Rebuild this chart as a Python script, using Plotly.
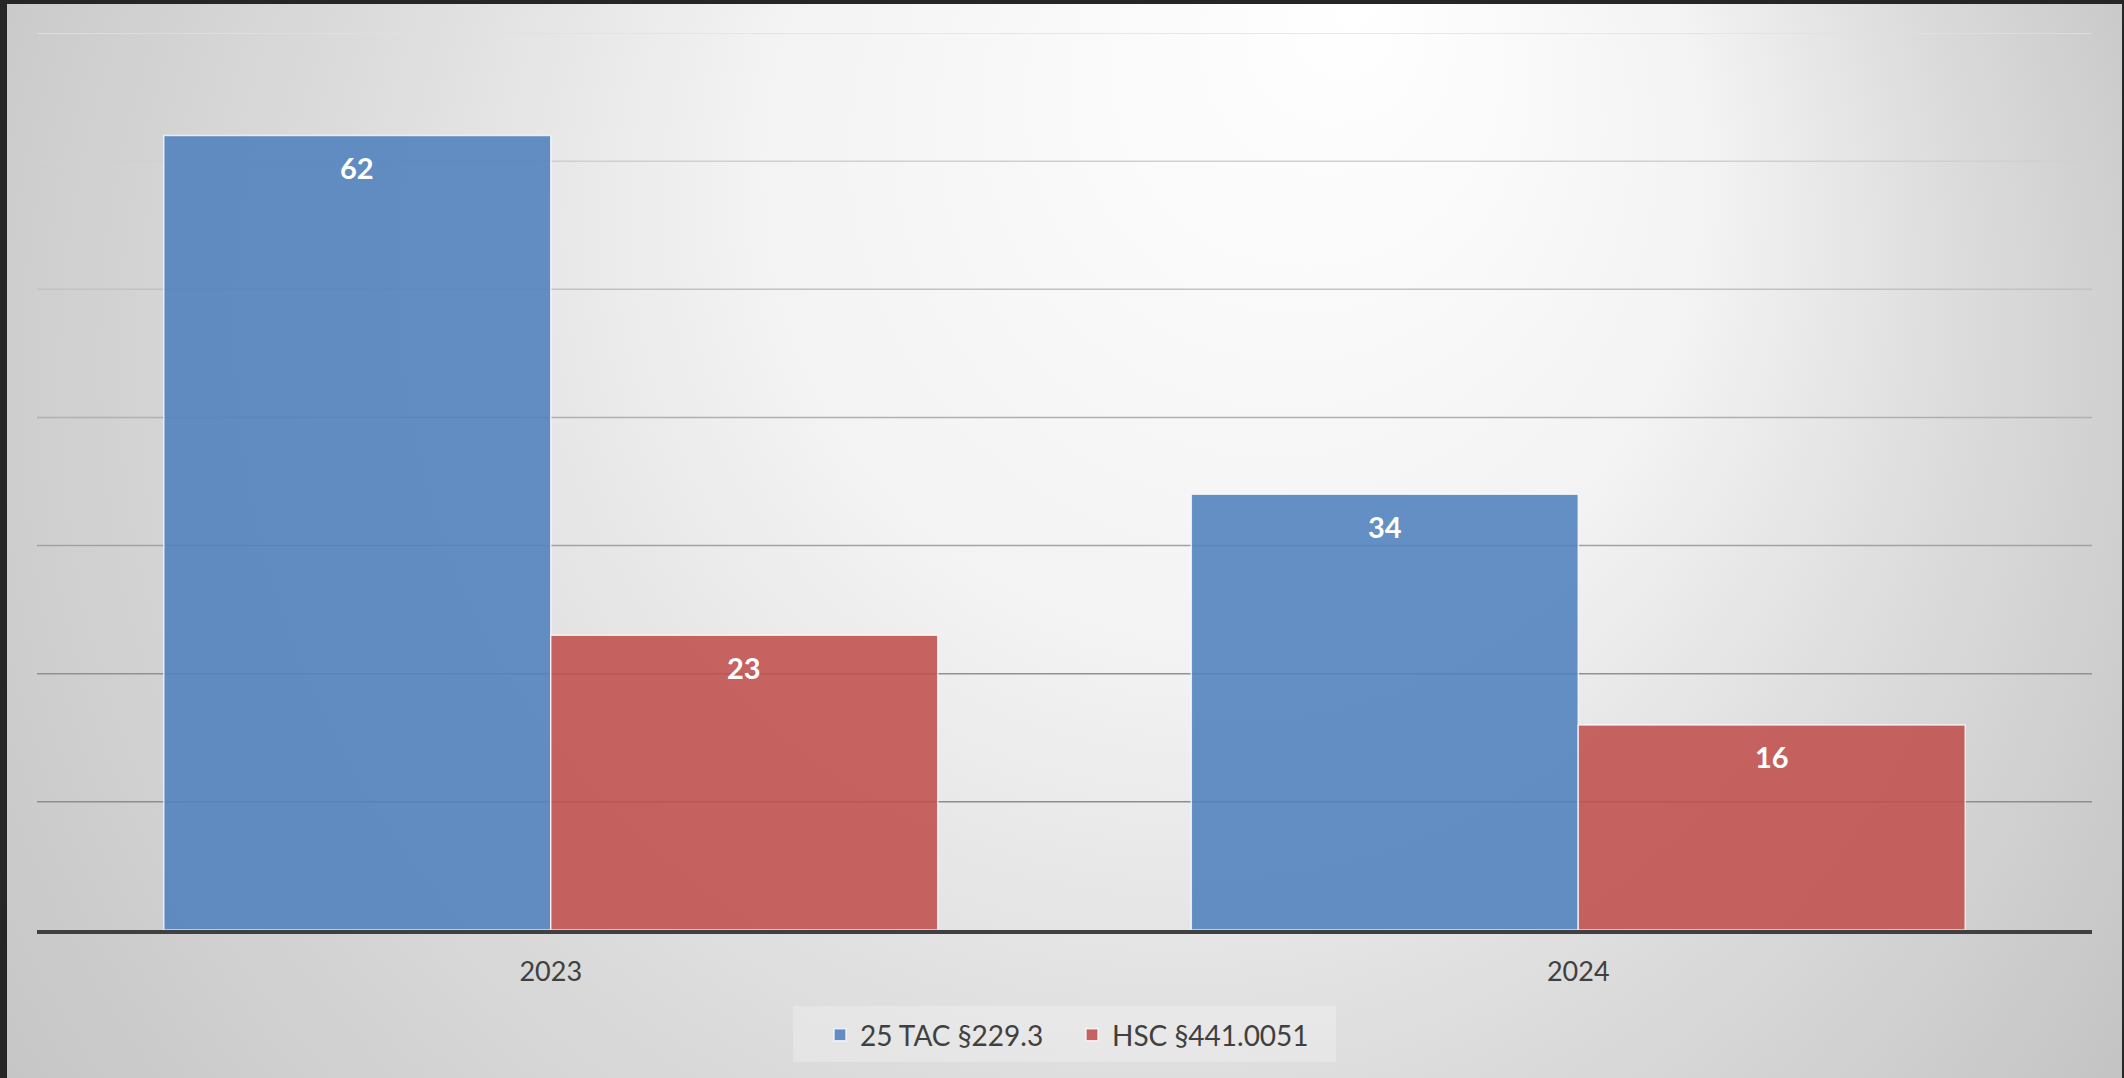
import base64
import plotly.graph_objects as go

# ---------------- data ----------------
categories = ["2023", "2024"]
series_names = ["25 TAC §229.3", "HSC §441.0051"]
tac_values = [62, 34]
hsc_values = [23, 16]
grid_values = [10, 20, 30, 40, 50, 60, 70]

# ---------------- styles ----------------
W, H = 2124, 1078
FONT = "Lato"
TEXT_COLOR = "#404040"
bar_colors = ["rgba(79,129,189,0.88)", "rgba(192,80,77,0.88)"]
grid_colors = ["#8e8e8e", "#929292", "#a2a2a2", "#b0b0b0", "#c2c2c2", "#d0d0d0", "#e0e0e0"]
bar_width = 0.3766

# plot-area geometry (pixels)
px_left, px_right = 37, 2092
px_top, px_bottom = 33, 930
xdom = [px_left / W, px_right / W]
ydom = [(H - px_bottom) / H, (H - px_top) / H]

# background radial gradient as an SVG image
svg = f'''<svg xmlns="http://www.w3.org/2000/svg" width="{W}" height="{H}" viewBox="0 0 {W} {H}" preserveAspectRatio="none">
<defs><radialGradient id="g" gradientUnits="userSpaceOnUse" cx="1000" cy="500" r="1358" fx="1360" fy="0">
<stop offset="0" stop-color="#ffffff"/>
<stop offset="0.35" stop-color="#f3f3f3"/>
<stop offset="0.6" stop-color="#dcdcdc"/>
<stop offset="0.85" stop-color="#c9c9c9"/>
<stop offset="1" stop-color="#bebebe"/>
</radialGradient></defs>
<rect x="0" y="0" width="{W}" height="{H}" fill="url(#g)"/></svg>'''
svg_uri = "data:image/svg+xml;base64," + base64.b64encode(svg.encode("utf-8")).decode("ascii")

fig = go.Figure()
all_values = [tac_values, hsc_values]
offsets = [-bar_width, 0.0]
for name, vals, color, off in zip(series_names, all_values, bar_colors, offsets):
    fig.add_trace(go.Bar(
        x=categories, y=vals, name=name,
        width=bar_width, offset=off,
        marker=dict(color=color, line=dict(color="rgba(255,255,255,0.75)", width=1.5)),
        hoverinfo="x+y+name",
    ))

annotations = []
for vals, off in zip(all_values, offsets):
    for i, v in enumerate(vals):
        annotations.append(dict(
            x=i + off + bar_width / 2, y=v, xref="x", yref="y",
            text=f"<b>{v}</b>", showarrow=False, yshift=-32,
            xanchor="center", yanchor="middle",
            font=dict(family=FONT, size=29, color="white"),
        ))

shapes = []
for gv, gc in zip(grid_values, grid_colors):
    shapes.append(dict(type="line", xref="paper", yref="y", x0=xdom[0], x1=xdom[1],
                       y0=gv, y1=gv, line=dict(color=gc, width=1.5), layer="below"))
# legend background box
shapes.append(dict(type="rect", xref="paper", yref="paper",
                   x0=793 / W, x1=1336 / W, y0=1 - 1062 / H, y1=1 - 1006 / H,
                   fillcolor="rgba(255,255,255,0.25)", line=dict(width=0), layer="below"))
# dark outer frame
frame = "#262626"
shapes.append(dict(type="rect", xref="paper", yref="paper", x0=0, x1=7 / W, y0=0, y1=1,
                   fillcolor=frame, line=dict(width=0), layer="above"))
shapes.append(dict(type="rect", xref="paper", yref="paper", x0=0, x1=1, y0=1 - 4 / H, y1=1,
                   fillcolor=frame, line=dict(width=0), layer="above"))
shapes.append(dict(type="rect", xref="paper", yref="paper", x0=1 - 2 / W, x1=1, y0=0, y1=1,
                   fillcolor=frame, line=dict(width=0), layer="above"))

fig.update_layout(
    width=W, height=H,
    margin=dict(l=0, r=0, t=0, b=0, pad=0),
    paper_bgcolor="#d4d4d4",
    plot_bgcolor="rgba(0,0,0,0)",
    images=[dict(source=svg_uri, xref="paper", yref="paper", x=0, y=1, sizex=1, sizey=1,
                 sizing="stretch", xanchor="left", yanchor="top", layer="below")],
    barmode="group",
    showlegend=True,
    legend=dict(orientation="h", x=820 / W, xanchor="left", y=1 - 1035 / H, yanchor="middle",
                bgcolor="rgba(0,0,0,0)", font=dict(family=FONT, size=28, color=TEXT_COLOR),
                entrywidth=207, entrywidthmode="pixels", itemclick=False, itemdoubleclick=False),
    xaxis=dict(domain=xdom, type="category", range=[-0.5, 1.5], showgrid=False,
               showline=True, linecolor="#404040", linewidth=4,
               ticks="outside", ticklen=15, tickcolor="rgba(0,0,0,0)",
               tickfont=dict(family=FONT, size=27, color=TEXT_COLOR), fixedrange=True),
    yaxis=dict(domain=ydom, range=[0, 70], showgrid=False, zeroline=False,
               showticklabels=False, showline=False, fixedrange=True),
    annotations=annotations,
    shapes=shapes,
    font=dict(family=FONT, color=TEXT_COLOR),
)

fig.write_html("out.html", post_script="document.body.style.margin='0';",
               config={"displayModeBar": False})
